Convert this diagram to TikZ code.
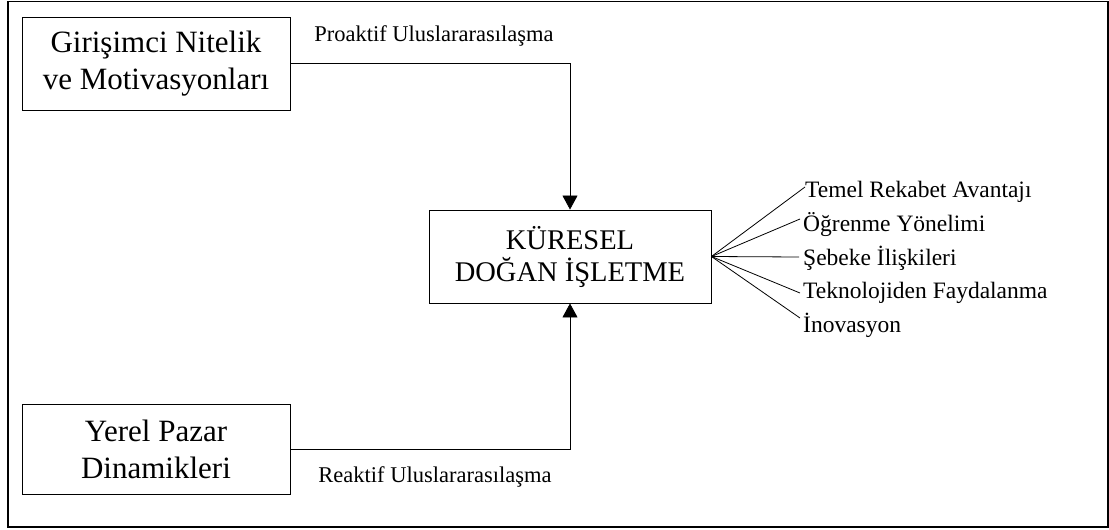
\documentclass[tikz,border=0pt]{standalone}
\usepackage{fontspec}
\setmainfont{Liberation Serif}
\usetikzlibrary{arrows.meta}

\tikzset{
  kutu/.style={draw, line width=0.9pt, minimum width=268pt, align=center,
    font=\fontsize{31}{37}\selectfont},
  etiket/.style={anchor=base west, inner sep=0pt, font=\fontsize{23.5}{28}\selectfont},
  yol/.style={line width=0.8pt},
  ok/.style={yol, -{Triangle[length=14pt,width=15pt]}}
}

\begin{document}
\begin{tikzpicture}[x=1pt,y=-1pt]
                \useasboundingbox (0,0) rectangle (1109,530);
                \draw[line width=1.2pt] (8,1.5) rectangle (1108,527);
                % the three boxes
                \node[kutu, minimum height=93pt] (girisim) at (156,63.5) {Girişimci Nitelik\\ve Motivasyonları};
                \node[kutu, minimum height=90pt] (pazar) at (156,449) {Yerel Pazar\\Dinamikleri};
                \node[kutu, minimum width=282pt, minimum height=93pt,
                      font=\fontsize{28.5}{32}\selectfont] (dogan) at (570,256.5) {KÜRESEL\\DOĞAN İŞLETME};
                \node[font=\fontsize{22.5}{26}\selectfont] (proaktif) at (434,36) {Proaktif Uluslararasılaşma};
                \node[font=\fontsize{22.5}{26}\selectfont] (reaktif) at (435,477) {Reaktif Uluslararasılaşma};
                \draw[ok] (girisim.east) -| (dogan.north);
                \draw[ok] (pazar.east) -| (dogan.south);
                % the fan on the right
                \coordinate (yelpaze) at (dogan.east);
                \node[etiket] (t1) at (805,197) {Temel Rekabet Avantajı};
                \node[etiket] (t2) at (803,231) {Öğrenme Yönelimi};
                \node[etiket] (t3) at (803,265) {Şebeke İlişkileri};
                \node[etiket] (t4) at (803,298) {Teknolojiden Faydalanma};
                \node[etiket] (t5) at (803,332) {İnovasyon};
                \draw[yol] (yelpaze) -- ([yshift=10pt]t1.base west);
                \draw[yol] (yelpaze) -- ([xshift=-3pt,yshift=12pt]t2.base west);
                \draw[yol] (yelpaze) -- ([xshift=-4pt,yshift=8pt]t3.base west);
                \draw[yol] (yelpaze) -- ([xshift=-3pt,yshift=5pt]t4.base west);
                \draw[yol] (yelpaze) -- ([xshift=-3pt,yshift=14pt]t5.base west);
            \end{tikzpicture}
\end{document}
